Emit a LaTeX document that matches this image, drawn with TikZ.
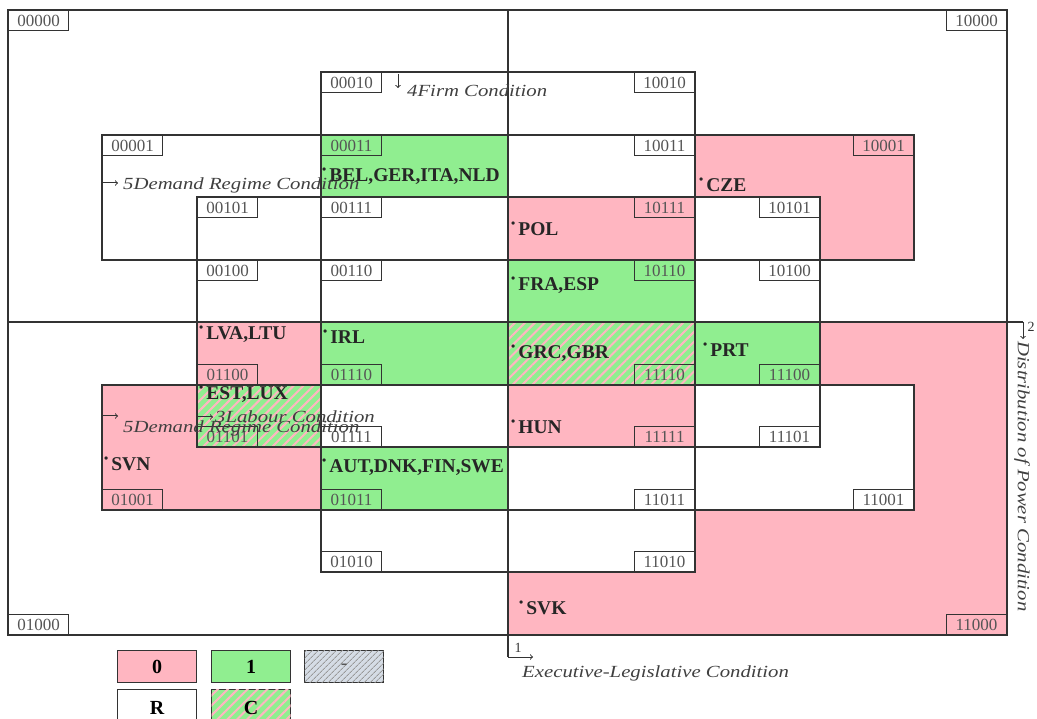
\documentclass[tikz,border=0pt]{standalone}
\usepackage{fontspec}
\setmainfont{Liberation Serif}
\usetikzlibrary{patterns.meta}

\definecolor{zero}{HTML}{FFB6C1}
\definecolor{one}{HTML}{90EE90}
\definecolor{dontcare}{HTML}{D5DCE5}
\definecolor{ink}{HTML}{333333}
\definecolor{codegrey}{HTML}{555555}
\newcommand{\fsz}[1]{\fontsize{#1}{#1}\selectfont}
\newcommand{\dotmark}{\raisebox{.42em}{\fsz{12}\textbullet}\hspace{3pt}}
\newcommand{\wide}[1]{\scalebox{1.22}[1]{#1}}

\begin{document}
\begin{tikzpicture}[x=1pt, y=-1pt,
    frame/.style={draw=ink, line width=1.2pt},
    code/.style={draw=ink, line width=1pt, minimum width=60pt, minimum height=20pt,
                 inner sep=0pt, text=codegrey, font=\fsz{17}},
    ctry/.style={anchor=west, inner sep=0pt, font=\fsz{19.5}\bfseries, text=black!85},
    cond/.style={anchor=west, inner sep=0pt, font=\fsz{17}\itshape, text=black!75},
    cue/.style={->, draw=ink, line width=1pt},
    hatch/.style={pattern={Lines[angle=45,distance=7pt,line width=2pt]}, pattern color=zero},
    key/.style={draw=ink, line width=1.2pt, minimum width=79pt, minimum height=32pt,
                inner sep=0pt, anchor=north west, font=\fsz{20}\bfseries}
  ]
  \useasboundingbox (0,0) rectangle (1037,719);

  % Outcome 0 regions
  \fill[zero] (695,135) -- (914,135) -- (914,260) -- (820,260) -- (820,197) -- (695,197) -- cycle;
  \fill[zero] (508,197) rectangle (695,260);
  \fill[zero] (197,322) rectangle (321,385);
  \fill[zero] (508,385) rectangle (695,447);
  \fill[zero] (102,385) rectangle (321,510);
  \fill[zero] (508,572) -- (695,572) -- (695,510) -- (914,510) -- (914,385) -- (820,385)
              -- (820,322) -- (1007,322) -- (1007,635) -- (508,635) -- cycle;
  % Outcome 1 regions
  \fill[one] (321,135) rectangle (508,197);
  \fill[one] (508,260) rectangle (695,322);
  \fill[one] (321,322) rectangle (508,385);
  \fill[one] (695,322) rectangle (820,385);
  \fill[one] (321,447) rectangle (508,510);
  % Contradictions
  \fill[one] (508,322) rectangle (695,385);
  \fill[hatch] (508,322) rectangle (695,385);
  \fill[one] (197,385) rectangle (321,447);
  \fill[hatch] (197,385) rectangle (321,447);

  % Conditions
  \draw[frame] (8,10) rectangle (1007,635);
  \draw[frame] (321,72) rectangle (695,572);
  \draw[frame] (102,135) rectangle (914,260);
  \draw[frame] (102,385) rectangle (914,510);
  \draw[frame] (197,197) rectangle (820,447);

  % Configurations
  \node[code, anchor=north west] (c00000) at (8,10) {00000};
  \node[code, anchor=north east] (c10000) at (1007,10) {10000};
  \node[code, anchor=north west] (c00010) at (321,72) {00010};
  \node[code, anchor=north east] (c10010) at (695,72) {10010};
  \node[code, anchor=north west] (c00001) at (102,135) {00001};
  \node[code, anchor=north east] (c10001) at (914,135) {10001};
  \node[code, anchor=north west] (c00011) at (321,135) {00011};
  \node[code, anchor=north east] (c10011) at (695,135) {10011};
  \node[code, anchor=north west] (c00101) at (197,197) {00101};
  \node[code, anchor=north east] (c10101) at (820,197) {10101};
  \node[code, anchor=north west] (c00111) at (321,197) {00111};
  \node[code, anchor=north east] (c10111) at (695,197) {10111};
  \node[code, anchor=north west] (c00100) at (197,260) {00100};
  \node[code, anchor=north east] (c10100) at (820,260) {10100};
  \node[code, anchor=north west] (c00110) at (321,260) {00110};
  \node[code, anchor=north east] (c10110) at (695,260) {10110};
  \node[code, anchor=south west] (c01100) at (197,385) {01100};
  \node[code, anchor=south east] (c11100) at (820,385) {11100};
  \node[code, anchor=south west] (c01110) at (321,385) {01110};
  \node[code, anchor=south east] (c11110) at (695,385) {11110};
  \node[code, anchor=south west] (c01101) at (197,447) {01101};
  \node[code, anchor=south east] (c11101) at (820,447) {11101};
  \node[code, anchor=south west] (c01111) at (321,447) {01111};
  \node[code, anchor=south east] (c11111) at (695,447) {11111};
  \node[code, anchor=south west] (c01001) at (102,510) {01001};
  \node[code, anchor=south east] (c11001) at (914,510) {11001};
  \node[code, anchor=south west] (c01011) at (321,510) {01011};
  \node[code, anchor=south east] (c11011) at (695,510) {11011};
  \node[code, anchor=south west] (c01010) at (321,572) {01010};
  \node[code, anchor=south east] (c11010) at (695,572) {11010};
  \node[code, anchor=south west] (c01000) at (8,635) {01000};
  \node[code, anchor=south east] (c11000) at (1007,635) {11000};

  % Cases
  \node[ctry] (bel) at (322,176) {\dotmark BEL,GER,ITA,NLD};
  \node[ctry] (cze) at (699,185) {\dotmark CZE};
  \node[ctry] (pol) at (511,229) {\dotmark POL};
  \node[ctry] (fra) at (511,285) {\dotmark FRA,ESP};
  \node[ctry] (lva) at (199,334) {\dotmark LVA,LTU};
  \node[ctry] (irl) at (323,337) {\dotmark IRL};
  \node[ctry] (grc) at (511,353) {\dotmark GRC,GBR};
  \node[ctry] (prt) at (703,350) {\dotmark PRT};
  \node[ctry] (est) at (199,394) {\dotmark EST,LUX};
  \node[ctry] (hun) at (511,427) {\dotmark HUN};
  \node[ctry] (svn) at (104,464) {\dotmark SVN};
  \node[ctry] (aut) at (322,467) {\dotmark AUT,DNK,FIN,SWE};
  \node[ctry] (svk) at (519,608) {\dotmark SVK};

  % Condition names
  \coordinate (v0) at (508,10);
  \coordinate (v1) at (508,657);
  \coordinate (v2) at (533,657);
  \coordinate (h0) at (8,322);
  \coordinate (h1) at (1023,322);
  \coordinate (h2) at (1023,339);
  \draw[draw=ink, line width=1.2pt] (v0) -- (v1);
  \draw[cue] (v1) -- (v2);
  \draw[draw=ink, line width=1.2pt] (h0) -- (h1);
  \draw[cue] (h1) -- (h2);
  \node[font=\fsz{14}, text=ink, inner sep=0pt] (n1) at (518,648) {1};
  \node[font=\fsz{14}, text=ink, inner sep=0pt] (n2) at (1031,327) {2};
  \node[cond] (exec) at (522,673) {\wide{Executive-Legislative Condition}};
  \node[cond, rotate=-90] (dist) at (1022,341) {\wide{Distribution of Power Condition}};

  \coordinate (f0) at (398,74);
  \coordinate (f1) at (398,88);
  \draw[cue] (f0) -- (f1);
  \node[cond] (firm) at (407,91) {\wide{4Firm Condition}};
  \coordinate (d0) at (102,183);
  \coordinate (d1) at (118,183);
  \draw[cue] (d0) -- (d1);
  \node[cond] (demup) at (123,185) {\wide{5Demand Regime Condition}};
  \coordinate (e0) at (102,416);
  \coordinate (e1) at (118,416);
  \draw[cue] (e0) -- (e1);
  \node[cond] (demlo) at (123,428) {\wide{5Demand Regime Condition}};
  \coordinate (l0) at (197,417);
  \coordinate (l1) at (213,417);
  \draw[cue] (l0) -- (l1);
  \node[cond] (lab) at (215,417) {\wide{3Labour Condition}};

  % Legend
  \node[key, fill=zero] (k0) at (117,650) {0};
  \node[key, fill=one] (k1) at (211,650) {1};
  \node[key, fill=dontcare, text=codegrey, font=\fsz{20},
        postaction={pattern={Lines[angle=45,distance=4pt,line width=1pt]}, pattern color=gray!80}]
        (kd) at (304,650) {-};
  \node[key, fill=white, minimum height=36pt] (kr) at (117,689) {R};
  \node[key, fill=one, minimum height=36pt, postaction={hatch}] (kc) at (211,689) {C};
\end{tikzpicture}
\end{document}
